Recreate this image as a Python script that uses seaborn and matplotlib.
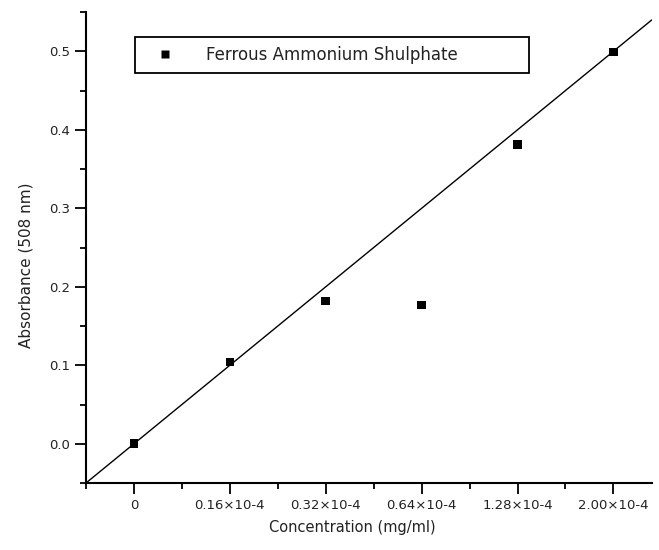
import matplotlib.pyplot as plt
import numpy as np
import pandas as pd
import seaborn as sns
from matplotlib.ticker import MultipleLocator

# dados
concentracao = ["0", "0.16×10-4", "0.32×10-4", "0.64×10-4", "1.28×10-4", "2.00×10-4"]
absorbancia = [0.000, 0.104, 0.182, 0.177, 0.381, 0.499]

# reta de calibracao (inclinacao e intercepto por posicao)
reta_inclinacao = 0.1
reta_intercepto = 0.0

serie = "Ferrous Ammonium Shulphate"

df = pd.DataFrame({
    "pos": np.arange(len(concentracao)),
    "abs": absorbancia,
    "serie": serie,
})

sns.set_style("ticks")
plt.rcParams["font.family"] = ["DejaVu Sans"]

fig = plt.figure(figsize=(6.59, 5.5), dpi=100)
ax = fig.add_axes([0.1305, 0.1218, 0.8585, 0.8562])

xlim = (-0.5, 5.4)
ylim = (-0.05, 0.55)

# reta
xr = np.array(xlim)
sns.lineplot(x=xr, y=reta_intercepto + reta_inclinacao * xr, ax=ax,
             color="black", linewidth=1.0, legend=False)

# pontos
sns.scatterplot(data=df, x="pos", y="abs", hue="serie", palette=["black"],
                marker="s", s=38, edgecolor="none", ax=ax, zorder=3)

ax.set_xlim(*xlim)
ax.set_ylim(*ylim)

ax.set_xticks(df["pos"])
ax.set_xticklabels(concentracao)
ax.xaxis.set_minor_locator(MultipleLocator(0.5))
ax.yaxis.set_major_locator(MultipleLocator(0.1))
ax.yaxis.set_minor_locator(MultipleLocator(0.05))
ax.yaxis.set_major_formatter(plt.FormatStrFormatter("%.1f"))

ax.tick_params(which="major", length=8, width=1.3, labelsize=9.5, colors="black",
               labelcolor="#222222")
ax.tick_params(which="minor", length=4.5, width=1.3, colors="black")

for s in ["top", "right"]:
    ax.spines[s].set_visible(False)
for s in ["left", "bottom"]:
    ax.spines[s].set_linewidth(1.5)
    ax.spines[s].set_color("black")

ax.set_xlabel("Concentration (mg/ml)", fontsize=10.5, color="#222222")
ax.set_ylabel("Absorbance (508 nm)", fontsize=11, color="#222222")
ax.xaxis.set_label_coords(0.47, -0.079)
ax.yaxis.set_label_coords(-0.093, 0.463)

leg = ax.legend(loc="lower left", bbox_to_anchor=(0.087, 0.870, 0.696, 0.072),
                mode="expand", frameon=True, fancybox=False, fontsize=12,
                handlelength=2.5, handletextpad=1.2, borderpad=0.55,
                borderaxespad=0, markerscale=1.0, labelcolor="#222222")
leg.get_frame().set_edgecolor("black")
leg.get_frame().set_linewidth(1.3)
leg.get_frame().set_alpha(1)

fig.savefig("out.png", dpi=100)
